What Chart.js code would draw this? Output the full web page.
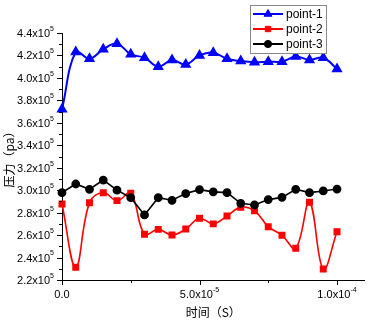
<!DOCTYPE html>
<html>
<head>
<meta charset="utf-8">
<script src="https://cdn.jsdelivr.net/npm/chart.js@4.4.1/dist/chart.umd.min.js"></script>
<style>
html, body { margin: 0; padding: 0; background: #fff; }
</style>
</head>
<body>
<canvas id="pressure-chart" width="371" height="320"></canvas>
<script>
// time (s) of each sample
const times = [0, 0.000005, 0.00001, 0.000015, 0.00002, 0.000025, 0.00003, 0.000035, 0.00004, 0.000045,
    0.00005, 0.000055, 0.00006, 0.000065, 0.00007, 0.000075, 0.00008, 0.000085, 0.00009, 0.000095, 0.0001];

// pressure (pa)
const point1 = [372000, 423000, 417000, 425500, 430500, 421000, 418000, 410000, 416000, 412000,
    420000, 422500, 417000, 415000, 414000, 414500, 414500, 419000, 416000, 418000, 408000];
const point2 = [287700, 231300, 288900, 297800, 290700, 297200, 260700, 265100, 260000, 265400,
    275000, 270000, 277000, 284700, 281700, 267500, 259800, 248200, 289200, 229800, 263000];
const point3 = [297800, 305500, 300800, 309000, 300000, 293300, 278000, 293300, 291000, 297000,
    300500, 298500, 297800, 288300, 286800, 291600, 293600, 300800, 297800, 299300, 301000];

const seriesNames = ['point-1', 'point-2', 'point-3'];

const yMajorTicks = [220000, 240000, 260000, 280000, 300000, 320000, 340000, 360000, 380000, 400000, 420000, 440000];
const yTickLabels = ['2.2x10^5', '2.4x10^5', '2.6x10^5', '2.8x10^5', '3.0x10^5', '3.2x10^5',
    '3.4x10^5', '3.6x10^5', '3.8x10^5', '4.0x10^5', '4.2x10^5', '4.4x10^5'];
const xMajorTicks = [0, 0.00005, 0.0001];
const xTickLabels = ['0.0', '5.0x10^-5', '1.0x10^-4'];

const labelFont = '11px "Liberation Sans", Arial, sans-serif';
const supFont = '7px "Liberation Sans", Arial, sans-serif';

function toPoints(values) {
    return values.map((v, i) => ({ x: times[i], y: v }));
}

// draws "a.bx10" with a small raised exponent
function drawSciLabel(ctx, text, x, y, align) {
    const parts = text.split('^');
    ctx.font = labelFont;
    const w1 = ctx.measureText(parts[0]).width;
    ctx.font = supFont;
    const w2 = parts[1] ? ctx.measureText(parts[1]).width : 0;
    let left = x;
    if (align === 'right') left = x - w1 - w2;
    if (align === 'center') left = x - (w1 + w2) / 2;
    ctx.textAlign = 'left';
    ctx.textBaseline = 'middle';
    ctx.font = labelFont;
    ctx.fillText(parts[0], left, y);
    if (parts[1]) {
        ctx.font = supFont;
        ctx.fillText(parts[1], left + w1, y - 5);
    }
}

const axisPlugin = {
    id: 'axisPlugin',
    afterDraw(chart) {
        const ctx = chart.ctx;
        const xs = chart.scales.x;
        const ys = chart.scales.y;
        const area = chart.chartArea;
        ctx.save();
        ctx.strokeStyle = '#000';
        ctx.fillStyle = '#000';
        ctx.lineWidth = 1;
        ctx.beginPath();
        yMajorTicks.forEach((v, i) => {
            const py = Math.round(ys.getPixelForValue(v)) + 0.5;
            ctx.moveTo(area.left - 5, py);
            ctx.lineTo(area.left, py);
            if (i < yMajorTicks.length - 1) {
                const pm = Math.round(ys.getPixelForValue((v + yMajorTicks[i + 1]) / 2)) + 0.5;
                ctx.moveTo(area.left - 3, pm);
                ctx.lineTo(area.left, pm);
            }
        });
        xMajorTicks.forEach((v, i) => {
            const px = Math.round(xs.getPixelForValue(v)) + 0.5;
            ctx.moveTo(px, area.bottom);
            ctx.lineTo(px, area.bottom + 5);
            if (i < xMajorTicks.length - 1) {
                const pm = Math.round(xs.getPixelForValue((v + xMajorTicks[i + 1]) / 2)) + 0.5;
                ctx.moveTo(pm, area.bottom);
                ctx.lineTo(pm, area.bottom + 3);
            }
        });
        ctx.stroke();

        yMajorTicks.forEach((v, i) => {
            drawSciLabel(ctx, yTickLabels[i], area.left - 8, ys.getPixelForValue(v) + 1, 'right');
        });
        xMajorTicks.forEach((v, i) => {
            drawSciLabel(ctx, xTickLabels[i], xs.getPixelForValue(v), area.bottom + 15, 'center');
        });

        // legend box
        const bx = 250, by = 5, bw = 76, bh = 48;
        ctx.fillStyle = '#fff';
        ctx.fillRect(bx, by, bw, bh);
        ctx.strokeStyle = '#888';
        ctx.strokeRect(bx + 0.5, by + 0.5, bw, bh);
        chart.data.datasets.forEach((ds, i) => {
            const ry = 14 + i * 15;
            ctx.strokeStyle = ds.borderColor;
            ctx.lineWidth = 2;
            ctx.beginPath();
            ctx.moveTo(253, ry);
            ctx.lineTo(283, ry);
            ctx.stroke();
            ctx.fillStyle = ds.backgroundColor;
            ctx.lineWidth = 1;
            Chart.helpers.drawPoint(ctx, {
                pointStyle: ds.pointStyle,
                radius: ds.pointRadius,
                rotation: 0,
                borderWidth: 1
            }, 268, ry);
            ctx.fillStyle = '#000';
            ctx.font = '12px "Liberation Sans", Arial, sans-serif';
            ctx.textAlign = 'left';
            ctx.textBaseline = 'middle';
            ctx.fillText(ds.label, 286, ry + 1);
        });
        ctx.restore();
    }
};

new Chart(document.getElementById('pressure-chart'), {
    type: 'line',
    data: {
        datasets: [
            {
                label: seriesNames[0],
                data: toPoints(point1),
                borderColor: '#0000ff',
                backgroundColor: '#0000ff',
                borderWidth: 2,
                pointStyle: 'triangle',
                pointRadius: 4.5,
                tension: 0.4,
                clip: false,
                order: 3
            },
            {
                label: seriesNames[1],
                data: toPoints(point2),
                borderColor: '#ff0000',
                backgroundColor: '#ff0000',
                borderWidth: 1.6,
                pointStyle: 'rect',
                pointRadius: 3.8,
                tension: 0.4,
                clip: false,
                order: 2
            },
            {
                label: seriesNames[2],
                data: toPoints(point3),
                borderColor: '#000000',
                backgroundColor: '#000000',
                borderWidth: 1.6,
                pointStyle: 'circle',
                pointRadius: 3.6,
                tension: 0,
                clip: false,
                order: 1
            }
        ]
    },
    options: {
        responsive: false,
        animation: false,
        layout: { padding: { top: 33, right: 2, left: 0, bottom: 0 } },
        plugins: {
            legend: { display: false },
            tooltip: { enabled: false }
        },
        scales: {
            x: {
                type: 'linear',
                min: 0,
                max: 0.00011,
                grid: { display: false },
                border: { display: true, color: '#000', width: 1 },
                ticks: { display: false },
                title: {
                    display: true,
                    text: '时间（S）',
                    color: '#000',
                    font: { family: '"Noto Sans CJK SC"', size: 12 },
                    padding: { top: 0, bottom: 0 }
                },
                afterFit: function(scale) { scale.height = 40; }
            },
            y: {
                min: 220000,
                max: 440000,
                grid: { display: false },
                border: { display: true, color: '#000', width: 1 },
                ticks: { display: false },
                title: {
                    display: true,
                    text: '压力（pa）',
                    color: '#000',
                    font: { family: '"Noto Sans CJK SC"', size: 12 },
                    padding: { top: 2, bottom: 0 }
                },
                afterFit: function(scale) { scale.width = 62; }
            }
        }
    },
    plugins: [axisPlugin]
});
</script>
</body>
</html>
